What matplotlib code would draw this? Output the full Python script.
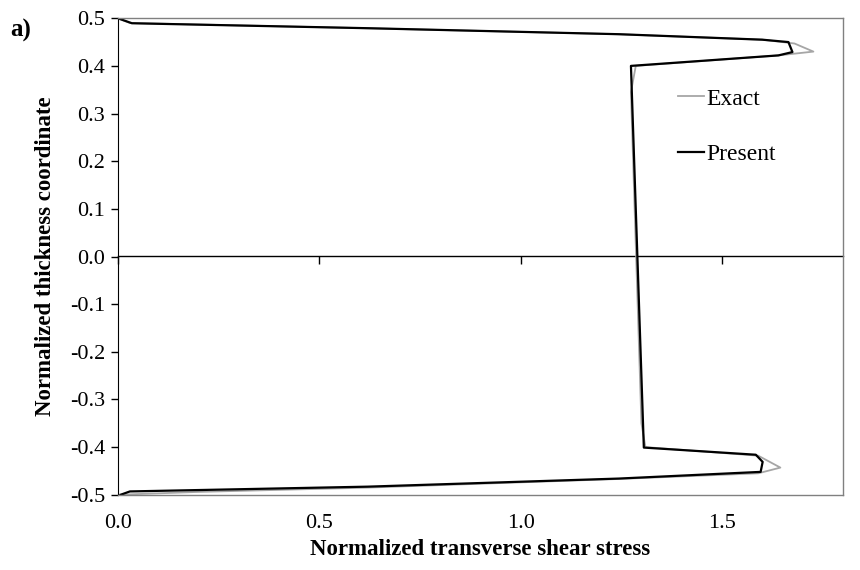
import numpy as np
import matplotlib.pyplot as plt

# 厚さ方向座標と横せん断応力
z_exact = [0.5, 0.49, 0.479, 0.4665, 0.455, 0.447, 0.43, 0.422, 0.40, 0.345,
           -0.35, -0.40, -0.418, -0.443, -0.455, -0.467, -0.485, -0.494, -0.5]
tau_exact = [0.0, 0.03, 0.62, 1.24, 1.60, 1.68, 1.727, 1.64, 1.286, 1.274,
             1.30, 1.31, 1.59, 1.645, 1.59, 1.24, 0.62, 0.2, 0.0]

z_present = [0.5, 0.4895, 0.479, 0.4665, 0.455, 0.45, 0.429, 0.422, 0.40,
             -0.401, -0.416, -0.431, -0.452, -0.466, -0.483, -0.493, -0.5]
tau_present = [0.0, 0.035, 0.625, 1.244, 1.60, 1.665, 1.675, 1.64, 1.274,
               1.306, 1.584, 1.601, 1.596, 1.244, 0.62, 0.03, 0.007]

xticks = [0.0, 0.5, 1.0, 1.5]
yticks = np.round(np.arange(-0.5, 0.51, 0.1), 1) + 0.0

plt.rcParams['font.family'] = ['Liberation Serif', 'DejaVu Serif']

fig = plt.figure(figsize=(8.6, 5.7), dpi=100)
ax = fig.add_axes([0.137, 0.132, 0.843, 0.836])

ax.plot(tau_exact, z_exact, color="#a6a6a6", lw=1.3, label="Exact")
ax.plot(tau_present, z_present, color="black", lw=1.6, label="Present")

ax.set_xlim(0, 1.8)
ax.set_ylim(-0.5, 0.5)
ax.set_yticks(yticks)
ax.set_yticklabels([f"{v:.1f}" if abs(v) > 1e-9 else "0.0" for v in yticks], fontsize=16)
ax.tick_params(axis='y', direction='out', length=5, width=1, pad=4)

# 下側の枠にラベルだけ、目盛り線は y=0 の軸に
ax.set_xticks(xticks)
ax.set_xticklabels([f"{v:.1f}" for v in xticks], fontsize=16)
ax.tick_params(axis='x', length=0, pad=14)
sec = ax.secondary_xaxis(0.5)
sec.set_xticks(xticks)
sec.set_xticklabels([])
sec.tick_params(axis='x', direction='in', length=6, width=1)
for s in sec.spines.values():
    s.set_color('black')
    s.set_linewidth(1)

for s in ['top', 'right', 'bottom']:
    ax.spines[s].set_color('#808080')
    ax.spines[s].set_linewidth(1)
ax.spines['left'].set_color('black')

ax.set_xlabel("Normalized transverse shear stress", fontsize=16.5, fontweight='bold', labelpad=4)
ax.set_ylabel("Normalized thickness coordinate", fontsize=16.5, fontweight='bold', labelpad=10)

ax.legend(loc='upper left', bbox_to_anchor=(0.757, 0.878), frameon=False, fontsize=17,
          handlelength=1.1, handletextpad=0.1, labelspacing=1.45, borderpad=0)

fig.text(0.012, 0.935, "a)", fontsize=18, fontweight='bold')

fig.savefig("out.png", dpi=100)
